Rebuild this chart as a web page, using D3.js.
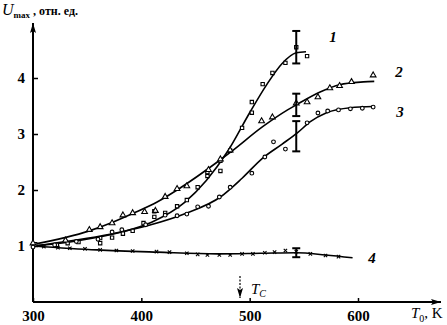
<!DOCTYPE html>
<html>
<head>
<meta charset="utf-8">
<script src="https://cdn.jsdelivr.net/npm/d3@7"></script>
<style>
  body { margin: 0; background: #fff; }
  svg { display: block; }
  text { font-family: "Liberation Serif", "DejaVu Serif", serif; fill: #000; }
</style>
</head>
<body>
<svg id="chart" width="447" height="325"></svg>
<script>
// smooth fitted curves (T0 in K, Umax rel. units)
var fit1T = [300, 340, 380, 410, 440, 460, 480, 500, 515, 530, 543, 552];
var fit1U = [1.0, 1.09, 1.24, 1.43, 1.78, 2.17, 2.70, 3.38, 3.86, 4.26, 4.45, 4.47];
var fit2T = [300, 352, 373, 392, 415, 433, 473, 482, 512, 535, 543, 565, 583, 605, 615];
var fit2U = [1.03, 1.27, 1.42, 1.58, 1.79, 2.0, 2.54, 2.67, 3.13, 3.43, 3.52, 3.75, 3.88, 3.93, 3.94];
var fit3T = [300, 371, 408, 442, 473, 493, 512, 530, 544, 556, 571, 593, 614];
var fit3U = [1.0, 1.21, 1.375, 1.59, 1.875, 2.21, 2.57, 2.82, 3.02, 3.22, 3.38, 3.47, 3.49];
var fit4T = [300, 359, 415, 470, 510, 543, 570, 595];
var fit4U = [1.0, 0.93, 0.89, 0.86, 0.87, 0.88, 0.84, 0.79];

// measured points
var pts1T = [302, 322, 332, 342, 362, 362, 373, 383, 392, 402, 412, 412, 422, 433, 442, 452, 461, 461, 473, 473, 482, 493, 502, 502, 512, 521, 533, 543, 553];
var pts1U = [1.03, 1.02, 1.05, 1.07, 1.14, 1.05, 1.15, 1.22, 1.27, 1.41, 1.62, 1.52, 1.59, 1.71, 1.82, 2.05, 2.32, 2.25, 2.34, 2.52, 2.70, 3.11, 3.38, 3.57, 3.89, 4.09, 4.27, 4.55, 4.39];
var pts2T = [300, 330, 352, 362, 373, 383, 392, 403, 413, 422, 433, 442, 462, 473, 482, 511, 521, 543, 553, 563, 574, 583, 594, 614];
var pts2U = [1.05, 1.10, 1.29, 1.34, 1.41, 1.55, 1.59, 1.61, 1.63, 1.88, 2.02, 2.07, 2.36, 2.55, 2.71, 3.23, 3.30, 3.55, 3.57, 3.66, 3.82, 3.86, 3.93, 4.05];
var pts3T = [300, 320, 340, 360, 373, 382, 404, 422, 433, 442, 452, 462, 472, 482, 502, 514, 522, 533, 553, 563, 572, 582, 593, 604, 614];
var pts3U = [0.98, 1.02, 1.08, 1.12, 1.25, 1.29, 1.38, 1.55, 1.54, 1.57, 1.70, 1.71, 1.875, 2.05, 2.30, 2.59, 2.86, 2.73, 3.20, 3.375, 3.41, 3.43, 3.45, 3.46, 3.48];
var pts4T = [310, 323, 334, 348, 362, 377, 392, 414, 426, 442, 452, 461, 472, 482, 493, 503, 514, 523, 533, 543, 556, 570, 582];
var pts4U = [0.99, 0.97, 0.96, 0.95, 0.93, 0.92, 0.91, 0.90, 0.89, 0.87, 0.85, 0.84, 0.84, 0.84, 0.86, 0.86, 0.88, 0.89, 0.92, 0.90, 0.86, 0.83, 0.81];

// error bars at T0 = 543 K
var errT = [543, 543, 543, 543];
var errU = [4.55, 3.52, 2.96, 0.88];
var errD = [0.29, 0.2, 0.27, 0.08];

var xTicks = [300, 400, 500, 600];
var yTicks = [1, 2, 3, 4];
var curveNames = ["1", "2", "3", "4"];

(function () {
  var svg = d3.select("#chart");

  var x = d3.scaleLinear().domain([300, 600]).range([33, 358]);
  var y = d3.scaleLinear().domain([0, 4]).range([302, 78]);

  function zip(T, U) {
    return T.map(function (t, i) { return { t: t, u: U[i] }; });
  }

  var defs = svg.append("defs");
  defs.append("marker")
    .attr("id", "arrow")
    .attr("viewBox", "0 0 10 6")
    .attr("refX", 10).attr("refY", 3)
    .attr("markerWidth", 10).attr("markerHeight", 6)
    .attr("markerUnits", "userSpaceOnUse")
    .attr("orient", "auto")
    .append("path")
    .attr("d", "M0,0 L10,3 L0,6 L2,3 Z")
    .attr("fill", "#000");

  // axes lines with arrows
  svg.append("line")
    .attr("x1", x(300)).attr("y1", y(0))
    .attr("x2", x(300)).attr("y2", 23)
    .attr("stroke", "#000").attr("stroke-width", 2)
    .attr("marker-end", "url(#arrow)");
  svg.append("line")
    .attr("x1", x(300)).attr("y1", y(0))
    .attr("x2", 441).attr("y2", y(0))
    .attr("stroke", "#000").attr("stroke-width", 2)
    .attr("marker-end", "url(#arrow)");

  // y axis ticks + labels
  var yAxis = svg.append("g")
    .attr("transform", "translate(" + x(300) + ",0)")
    .call(d3.axisLeft(y).tickValues(yTicks).tickSizeInner(-5).tickSizeOuter(0).tickPadding(8)
      .tickFormat(d3.format("d")));
  yAxis.select(".domain").remove();
  yAxis.selectAll("line").attr("stroke", "#000").attr("stroke-width", 1.5);
  yAxis.selectAll("text")
    .attr("font-family", "Liberation Serif")
    .attr("font-size", 15).attr("font-weight", "bold");

  // x axis ticks + labels
  var xAxis = svg.append("g")
    .attr("transform", "translate(0," + y(0) + ")")
    .call(d3.axisBottom(x).tickValues(xTicks).tickSizeInner(-4).tickSizeOuter(0).tickPadding(8)
      .tickFormat(d3.format("d")));
  xAxis.select(".domain").remove();
  xAxis.selectAll("line").attr("stroke", "#000").attr("stroke-width", 1.5);
  xAxis.selectAll("text")
    .attr("font-family", "Liberation Serif")
    .attr("font-size", 15).attr("font-weight", "bold");

  // fitted curves
  var line = d3.line()
    .x(function (d) { return x(d.t); })
    .y(function (d) { return y(d.u); })
    .curve(d3.curveMonotoneX);

  var fits = [zip(fit1T, fit1U), zip(fit2T, fit2U), zip(fit3T, fit3U), zip(fit4T, fit4U)];
  svg.selectAll(".fit")
    .data(fits)
    .enter().append("path")
    .attr("class", "fit")
    .attr("d", line)
    .attr("fill", "none")
    .attr("stroke", "#000")
    .attr("stroke-width", 1.6);

  // markers (small, as in the scan)
  var symSquare = d3.symbol().type(d3.symbolSquare).size(11);
  var symTri = d3.symbol().type(d3.symbolTriangle).size(14);
  var symCirc = d3.symbol().type(d3.symbolCircle).size(11);
  var symX = d3.symbol().type(d3.symbolTimes).size(9);

  function drawPoints(data, sym, filled) {
    svg.append("g").selectAll("path")
      .data(data)
      .enter().append("path")
      .attr("transform", function (d) { return "translate(" + x(d.t) + "," + y(d.u) + ")"; })
      .attr("d", sym)
      .attr("fill", filled ? "#000" : "#fff")
      .attr("stroke", "#000")
      .attr("stroke-width", 1.1);
  }
  drawPoints(zip(pts1T, pts1U), symSquare, false);
  drawPoints(zip(pts2T, pts2U), symTri, false);
  drawPoints(zip(pts3T, pts3U), symCirc, false);
  drawPoints(zip(pts4T, pts4U), symX, true);

  // error bars
  var errs = errT.map(function (t, i) { return { t: t, u: errU[i], d: errD[i] }; });
  var eb = svg.append("g").selectAll("g")
    .data(errs)
    .enter().append("g")
    .attr("stroke", "#000").attr("stroke-width", 2);
  eb.append("line")
    .attr("x1", function (d) { return x(d.t); })
    .attr("x2", function (d) { return x(d.t); })
    .attr("y1", function (d) { return y(d.u - d.d); })
    .attr("y2", function (d) { return y(d.u + d.d); });
  eb.append("line")
    .attr("x1", function (d) { return x(d.t) - 4; })
    .attr("x2", function (d) { return x(d.t) + 4; })
    .attr("y1", function (d) { return y(d.u + d.d); })
    .attr("y2", function (d) { return y(d.u + d.d); });
  eb.append("line")
    .attr("x1", function (d) { return x(d.t) - 4; })
    .attr("x2", function (d) { return x(d.t) + 4; })
    .attr("y1", function (d) { return y(d.u - d.d); })
    .attr("y2", function (d) { return y(d.u - d.d); });

  // curve numbers
  var labelPos = [[333, 42], [399, 77], [400, 117], [372, 263]];
  svg.selectAll(".cname")
    .data(curveNames)
    .enter().append("text")
    .attr("class", "cname")
    .attr("x", function (d, i) { return labelPos[i][0]; })
    .attr("y", function (d, i) { return labelPos[i][1]; })
    .attr("text-anchor", "middle")
    .attr("font-size", 15)
    .attr("font-style", "italic")
    .attr("font-weight", "bold")
    .text(function (d) { return d; });

  // y axis title
  var yt = svg.append("text").attr("x", 2).attr("y", 15);
  yt.append("tspan").attr("font-size", 16).attr("font-style", "italic").text("U");
  yt.append("tspan").attr("font-size", 9).attr("dy", 3).attr("font-weight", "bold").text("max");
  yt.append("tspan").attr("font-size", 12).attr("dy", -3).attr("font-weight", "bold").text(" , отн. ед.");

  // x axis title
  var xt = svg.append("text").attr("x", 411).attr("y", 318);
  xt.append("tspan").attr("font-size", 15).attr("font-style", "italic").text("T");
  xt.append("tspan").attr("font-size", 10).attr("dy", 4).text("0");
  xt.append("tspan").attr("font-size", 15).attr("dy", -4).text(", K");

  // Tc marker
  svg.append("line")
    .attr("x1", 240).attr("y1", 276)
    .attr("x2", 240).attr("y2", 298)
    .attr("stroke", "#000").attr("stroke-width", 1.2)
    .attr("stroke-dasharray", "2,1.5")
    .attr("marker-end", "url(#arrow)");
  var tc = svg.append("text").attr("x", 251).attr("y", 294);
  tc.append("tspan").attr("font-size", 15).attr("font-style", "italic").text("T");
  tc.append("tspan").attr("font-size", 10).attr("font-style", "italic").attr("dy", 3).text("C");
})();
</script>
</body>
</html>
